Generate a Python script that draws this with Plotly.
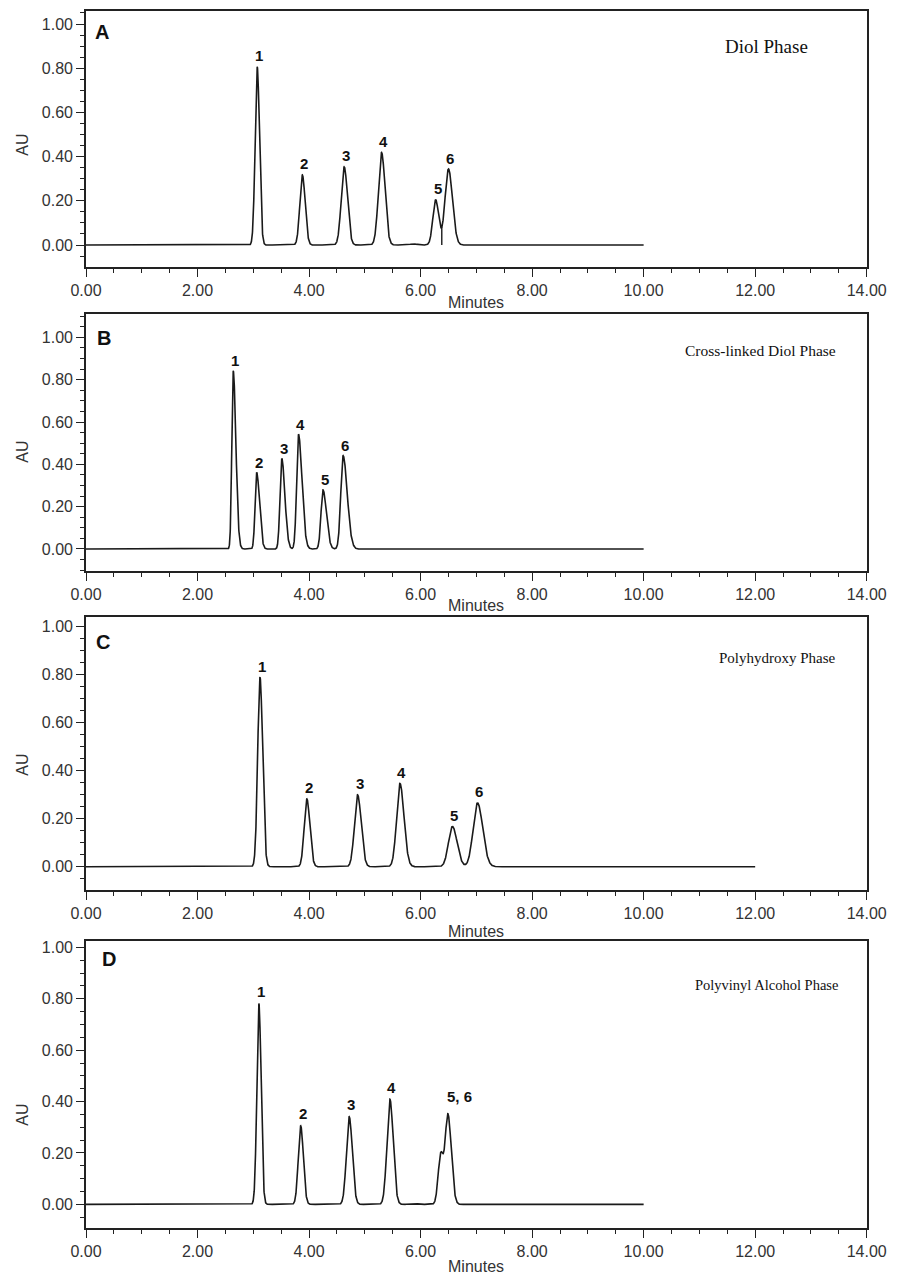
import numpy as np
import plotly.graph_objects as go
from plotly.subplots import make_subplots

# ---------------- data (peak tables) ----------------
# Panel A - Diol Phase
a_times   = [3.07, 3.88, 4.63, 5.30, 5.87, 6.27, 6.50]
a_heights = [0.807, 0.317, 0.354, 0.419, 0.005, 0.204, 0.344]
a_sigma   = [0.037, 0.045, 0.053, 0.056, 0.060, 0.050, 0.062]
a_tail    = [1.1, 1.1, 1.1, 1.1, 1.0, 1.1, 1.15]
a_labels  = ["1", "2", "3", "4", "", "5", "6"]
a_end     = 10.0
a_drop    = 6.38

# Panel B - Cross-linked Diol Phase
b_times   = [2.64, 3.06, 3.51, 3.81, 4.25, 4.61]
b_heights = [0.842, 0.362, 0.428, 0.542, 0.279, 0.441]
b_sigma   = [0.025, 0.028, 0.031, 0.033, 0.036, 0.041]
b_tail    = [1.9, 1.8, 1.8, 1.9, 1.7, 1.8]
b_labels  = ["1", "2", "3", "4", "5", "6"]
b_end     = 10.0

# Panel C - Polyhydroxy Phase
c_times   = [3.12, 3.96, 4.87, 5.63, 6.57, 7.02]
c_heights = [0.790, 0.283, 0.300, 0.347, 0.168, 0.266]
c_sigma   = [0.041, 0.047, 0.056, 0.060, 0.070, 0.078]
c_tail    = [1.15, 1.15, 1.15, 1.2, 1.2, 1.2]
c_labels  = ["1", "2", "3", "4", "5", "6"]
c_end     = 12.0

# Panel D - Polyvinyl Alcohol Phase
d_times   = [3.10, 3.85, 4.72, 5.45, 5.87, 6.36, 6.49]
d_heights = [0.782, 0.306, 0.341, 0.409, 0.004, 0.190, 0.350]
d_sigma   = [0.036, 0.043, 0.050, 0.053, 0.060, 0.045, 0.050]
d_tail    = [1.1, 1.1, 1.1, 1.1, 1.0, 1.0, 1.2]
d_labels  = ["1", "2", "3", "4", "", "", "5, 6"]
d_end     = 10.0

panel_letters = ["A", "B", "C", "D"]
phase_names = ["Diol Phase", "Cross-linked Diol Phase", "Polyhydroxy Phase",
               "Polyvinyl Alcohol Phase"]
x_ticks = [0, 2, 4, 6, 8, 10, 12, 14]
y_ticks = [0.0, 0.2, 0.4, 0.6, 0.8, 1.0]

# ---------------- helpers ----------------
W, H = 899, 1274


def xp(px):
    return px / W


def yp(px):
    return 1 - px / H


def chromatogram(times, heights, sigma, tail, end):
    t = np.arange(0.0, end + 0.001, 0.002)
    y = np.zeros_like(t)
    for tr, h, s, k in zip(times, heights, sigma, tail):
        sd = np.where(t < tr, s, s * k)
        y += h * np.exp(-0.5 * ((t - tr) / sd) ** 2)
    return t, y


panels = [
    (a_times, a_heights, a_sigma, a_tail, a_labels, a_end),
    (b_times, b_heights, b_sigma, b_tail, b_labels, b_end),
    (c_times, c_heights, c_sigma, c_tail, c_labels, c_end),
    (d_times, d_heights, d_sigma, d_tail, d_labels, d_end),
]

# layout geometry (pixels)
geom = [
    dict(top=11, bot=266.7, lo=-0.098, hi=1.059, mt=303, au=145,
         let=(102, 32), ph=(766, 46), phs=19, ys=11),
    dict(top=314.3, bot=571, lo=-0.104, hi=1.109, mt=605, au=452,
         let=(104, 338), ph=(760, 351), phs=15.5, ys=10),
    dict(top=616.7, bot=890, lo=-0.097, hi=1.042, mt=931, au=765,
         let=(103, 642), ph=(777, 658), phs=15, ys=11),
    dict(top=940.7, bot=1228.3, lo=-0.093, hi=1.026, mt=1266, au=1115,
         let=(109, 959), ph=(766, 985), phs=14.5, ys=12),
]

LINE = "#1a1a1a"
AXC = "#222222"
TXT = "#333333"
SANS = "Liberation Sans, Arial, sans-serif"
SERIF = "Liberation Serif, Times New Roman, serif"

fig = make_subplots(rows=4, cols=1)
annotations = []

for i, (times, heights, sigma, tail, labels, end) in enumerate(panels):
    g = geom[i]
    row = i + 1
    t, y = chromatogram(times, heights, sigma, tail, end)
    fig.add_trace(go.Scatter(x=t, y=y, mode="lines",
                             line=dict(color=LINE, width=1.6),
                             showlegend=False, hoverinfo="skip"),
                  row=row, col=1)
    if i == 0:
        yv = float(np.interp(a_drop, t, y))
        fig.add_trace(go.Scatter(x=[a_drop, a_drop], y=[0, yv], mode="lines",
                                 line=dict(color=LINE, width=1.4),
                                 showlegend=False, hoverinfo="skip"),
                      row=row, col=1)
    sfx = "" if i == 0 else str(i + 1)
    xref = "x" + sfx
    yref = "y" + sfx
    for tr, h, lab in zip(times, heights, labels):
        if not lab:
            continue
        ytop = float(np.interp(tr, t, y))
        xs = 2
        ys = g["ys"]
        if lab == "5, 6":
            xs = 12
            ys = 17
        annotations.append(dict(x=tr, y=ytop, xref=xref, yref=yref,
                                text="<b>" + lab + "</b>",
                                showarrow=False, xshift=xs, yshift=ys,
                                yanchor="middle",
                                font=dict(family=SANS, size=15, color="#111")))
    # panel letter
    annotations.append(dict(x=xp(g["let"][0]), y=yp(g["let"][1]), xref="paper",
                            yref="paper", text="<b>" + panel_letters[i] + "</b>",
                            showarrow=False, xanchor="center", yanchor="middle",
                            font=dict(family=SANS, size=20, color="#111")))
    # phase name
    annotations.append(dict(x=xp(g["ph"][0]), y=yp(g["ph"][1]), xref="paper",
                            yref="paper", text=phase_names[i],
                            showarrow=False, xanchor="center", yanchor="middle",
                            font=dict(family=SERIF, size=g["phs"], color="#111")))
    # axis titles
    annotations.append(dict(x=xp(476), y=yp(g["mt"]), xref="paper", yref="paper",
                            text="Minutes", showarrow=False, xanchor="center",
                            yanchor="middle",
                            font=dict(family=SANS, size=16, color=TXT)))
    annotations.append(dict(x=xp(21.7), y=yp(g["au"]), xref="paper", yref="paper",
                            text="AU", textangle=-90, showarrow=False,
                            xanchor="center", yanchor="middle",
                            font=dict(family=SANS, size=16, color=TXT)))

    xa = dict(range=[0, 14], tickvals=x_ticks, tickformat=".2f",
              domain=[xp(86), xp(866.7)], automargin=False,
              ticks="outside", ticklen=8, tickwidth=1.3, tickcolor=AXC,
              showline=True, linecolor=AXC, linewidth=1.6, mirror=True,
              showgrid=False, zeroline=False,
              tickfont=dict(family=SANS, size=16, color=TXT),
              minor=dict(dtick=0.5, tick0=0, ticks="outside", ticklen=4,
                         tickwidth=1.2, tickcolor=AXC, showgrid=False))
    ya = dict(range=[g["lo"], g["hi"]], tickvals=y_ticks, tickformat=".2f",
              domain=[yp(g["bot"]), yp(g["top"])], automargin=False,
              ticks="outside", ticklen=8, tickwidth=1.3, tickcolor=AXC,
              showline=True, linecolor=AXC, linewidth=1.6, mirror=True,
              showgrid=False, zeroline=False,
              tickfont=dict(family=SANS, size=16, color=TXT),
              minor=dict(dtick=0.05, tick0=0, ticks="outside", ticklen=4,
                         tickwidth=1.2, tickcolor=AXC, showgrid=False))
    fig.update_layout({"xaxis" + sfx: xa, "yaxis" + sfx: ya})

fig.update_layout(template="none", width=W, height=H, autosize=False,
                  margin=dict(l=0, r=0, t=0, b=0, pad=0, autoexpand=False),
                  paper_bgcolor="white", plot_bgcolor="white",
                  annotations=annotations, showlegend=False)

fig.write_html("out.html")
